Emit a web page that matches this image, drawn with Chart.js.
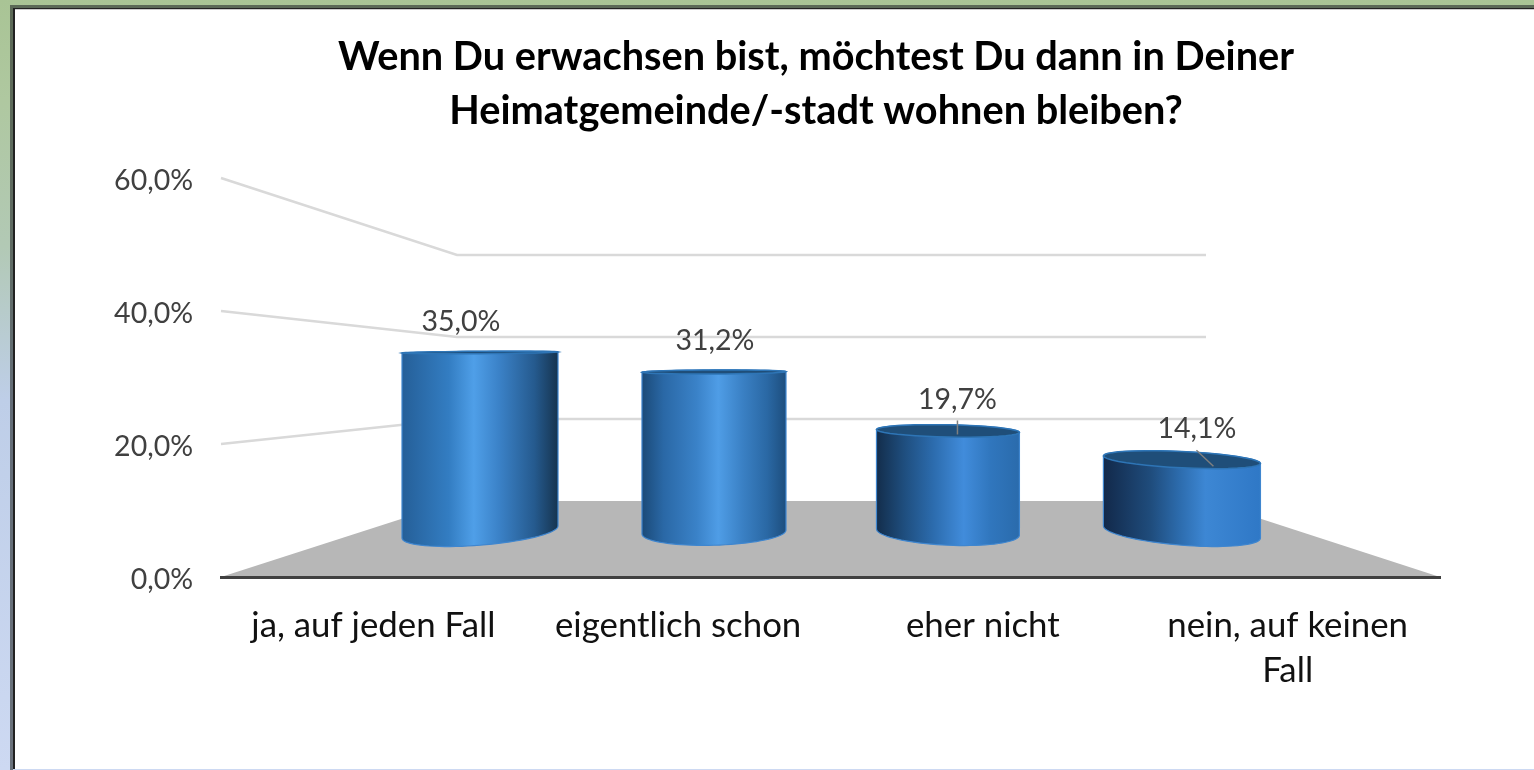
<!DOCTYPE html>
<html>
<head>
<meta charset="utf-8">
<style>
html, body { margin: 0; height: 100%; overflow: hidden; }
body { background: linear-gradient(#a9c495 0%, #afc8a0 13%, #b2c9b5 32%, #becee8 52%, #cdd9f2 100%); }
#frame { position: absolute; left: 10px; top: 5px; right: 0; bottom: 0; border-left: 3px solid rgba(40,45,45,.6); border-top: 3px solid rgba(40,45,45,.6); }
#sheet { position: absolute; left: 0; top: 0; right: 0; bottom: 1px; background: #fff; border-left: 2px solid #222; border-top: 1px solid #222; box-shadow: inset 0 1px 0 #ccc; }
#c { position: absolute; left: 0; top: 0; }
</style>
</head>
<body>
<div id="frame"><div id="sheet"></div></div>
<canvas id="c" width="1534" height="770"></canvas>
<script src="https://cdn.jsdelivr.net/npm/chart.js@4"></script>
<script>
var titleLines = ['Wenn Du erwachsen bist, möchtest Du dann in Deiner', 'Heimatgemeinde/-stadt wohnen bleiben?'];
var categories = ['ja, auf jeden Fall', 'eigentlich schon', 'eher nicht', ['nein, auf keinen', 'Fall']];
var values = [35.0, 31.2, 19.7, 14.1];
var yTicks = [0, 20, 40, 60];

// look of each cylinder, it is a fake 3d view so every one is a bit different
var widthFactor = [1.04, 0.96, 0.953, 1.047];
var tilt = [-0.46, -0.15, 0.23, 0.46];
var labelShift = [-19, 1, 9.5, 15];
var leaders = [null, null, [9.5, -10.5, 9.5, 3.5], [14.5, -9.5, 31.5, 6.5]];
var shades = [
    [[0, '#255f98'], [0.3, '#337dc2'], [0.46, '#4f9fe8'], [0.62, '#3b82c8'], [0.85, '#255a8e'], [1, '#16344f']],
    [[0, '#1b4a78'], [0.15, '#2a68a6'], [0.38, '#3a82c8'], [0.53, '#4f9de6'], [0.7, '#3a80c4'], [0.87, '#2a68a4'], [1, '#1d4e7e']],
    [[0, '#132d4b'], [0.2, '#1f4f80'], [0.4, '#2c6cae'], [0.61, '#418cdb'], [0.8, '#3076bd'], [1, '#2a6bac']],
    [[0, '#12294a'], [0.3, '#1f4c7c'], [0.48, '#2c6bac'], [0.65, '#3d87d4'], [1, '#2f78c6']]
];

function pct(v) {
    return v.toFixed(1).replace('.', ',') + '%';
}

function ellipsePts(ctx, cx, cy, rx, ry, lean, from, to, move) {
    for (var i = 0; i <= 40; i++) {
        var t = from + (to - from) * i / 40;
        var px = cx + rx * Math.cos(t);
        var py = cy + lean * Math.cos(t) + ry * Math.sin(t);
        if (i === 0 && move) ctx.moveTo(px, py);
        else ctx.lineTo(px, py);
    }
}

var perspective = {
    id: 'perspective',
    // floor and walls, goes under the axis line
    beforeDraw: function (chart) {
        var ctx = chart.ctx, a = chart.chartArea;
        var wallL = a.left + 236, wallR = a.right - 234;
        var y = chart.scales.y, wall = chart.scales.yWall;
        ctx.save();
        ctx.fillStyle = '#b7b7b7';
        ctx.beginPath();
        ctx.moveTo(a.left, y.getPixelForValue(0));
        ctx.lineTo(wallL, wall.getPixelForValue(0));
        ctx.lineTo(wallR, wall.getPixelForValue(0));
        ctx.lineTo(a.right, y.getPixelForValue(0));
        ctx.closePath();
        ctx.fill();
        ctx.strokeStyle = '#d9d9d9';
        ctx.lineWidth = 2.5;
        yTicks.forEach(function (t) {
            if (t === 0) return;
            ctx.beginPath();
            ctx.moveTo(a.left, y.getPixelForValue(t));
            ctx.lineTo(wallL, wall.getPixelForValue(t));
            ctx.lineTo(wallR, wall.getPixelForValue(t));
            ctx.stroke();
        });
        ctx.restore();
    },
    // cylinders are drawn here from the bar elements instead of plain rectangles
    beforeDatasetDraw: function (chart, args) {
        var ctx = chart.ctx;
        var eye = chart.scales.yBar.getPixelForValue(36.8);
        args.meta.data.forEach(function (el, i) {
            var rx = el.width * widthFactor[i] / 2;
            var left = el.x - rx, right = el.x + rx;
            var ryB = 0.07 * (el.base - eye), ryT = Math.max(1.2, 0.07 * (el.y - eye));
            var g = ctx.createLinearGradient(left, 0, right, 0);
            shades[i].forEach(function (s) { g.addColorStop(s[0], s[1]); });
            ctx.save();
            ctx.beginPath();
            ellipsePts(ctx, el.x, el.base, rx, ryB, tilt[i] * ryB, 0, Math.PI, true);
            ellipsePts(ctx, el.x, el.y, rx, ryT, tilt[i] * ryT, Math.PI, 2 * Math.PI, false);
            ctx.closePath();
            ctx.fillStyle = g;
            ctx.fill();
            ctx.strokeStyle = '#3f86cf';
            ctx.lineWidth = 1.2;
            ctx.stroke();
            ctx.beginPath();
            ellipsePts(ctx, el.x, el.y, rx, ryT, tilt[i] * ryT, 0, 2 * Math.PI, true);
            ctx.closePath();
            ctx.fillStyle = '#1f4e79';
            ctx.fill();
            ctx.strokeStyle = '#2e75b6';
            ctx.lineWidth = 1.5;
            ctx.stroke();
            ctx.restore();
        });
        return false;
    },
    afterDatasetsDraw: function (chart) {
        var ctx = chart.ctx;
        var meta = chart.getDatasetMeta(0);
        ctx.save();
        ctx.font = '28.5px Lato';
        ctx.fillStyle = '#404040';
        ctx.textAlign = 'center';
        ctx.textBaseline = 'middle';
        meta.data.forEach(function (el, i) {
            ctx.fillText(pct(values[i]), el.x + labelShift[i], el.y - 31);
            if (leaders[i]) {
                ctx.strokeStyle = '#7f7f7f';
                ctx.lineWidth = 1.5;
                ctx.beginPath();
                ctx.moveTo(el.x + leaders[i][0], el.y + leaders[i][1]);
                ctx.lineTo(el.x + leaders[i][2], el.y + leaders[i][3]);
                ctx.stroke();
            }
        });
        ctx.restore();
    }
};

var chart = new Chart(document.getElementById('c'), {
    type: 'bar',
    data: {
        labels: categories,
        datasets: [{
            data: values.map(function (v, i) { return { x: i, y: v }; }),
            xAxisID: 'xBar',
            yAxisID: 'yBar',
            backgroundColor: '#2e75b6',
            barThickness: 150
        }]
    },
    options: {
        responsive: false,
        animation: false,
        layout: { padding: { left: 98, right: 0, top: 0, bottom: 0 } },
        plugins: {
            legend: { display: false },
            tooltip: { enabled: false },
            title: {
                display: true,
                text: titleLines,
                color: '#000',
                font: { family: 'Lato', size: 39.7, weight: 'bold', lineHeight: 54 / 39.7 },
                padding: { top: 30, bottom: 40 }
            }
        },
        scales: {
            x: {
                type: 'category',
                offset: true,
                grid: { display: false, drawTicks: false },
                border: { display: true, color: '#404040', width: 3 },
                ticks: { color: '#111', font: { family: 'Lato', size: 34.8, lineHeight: 1.3 }, padding: 26, maxRotation: 0, autoSkip: false },
                afterFit: function (scale) { scale.height = 193; }
            },
            y: {
                type: 'linear',
                position: 'left',
                min: 0,
                max: 60,
                grid: { display: false, drawTicks: false },
                border: { display: false },
                ticks: { stepSize: 20, color: '#404040', font: { family: 'Lato', size: 28.5 }, padding: 28, labelOffset: 3, callback: function (v) { return pct(v); } },
                afterFit: function (scale) { scale.width = 123; }
            },
            // the same values seen further back: bars stand in the middle of the floor
            xBar: { type: 'linear', display: false, offset: false, min: -1.107, max: 4.103 },
            yBar: { type: 'linear', display: false, min: -8.77, max: 69.01 },
            // back wall, also keeps the free room on the right of the plot
            yWall: {
                type: 'linear',
                position: 'right',
                min: -18.54,
                max: 78.78,
                grid: { display: false },
                border: { display: false },
                ticks: { display: false },
                afterFit: function (scale) { scale.width = 94; }
            }
        }
    },
    plugins: [perspective]
});
</script>
</body>
</html>
